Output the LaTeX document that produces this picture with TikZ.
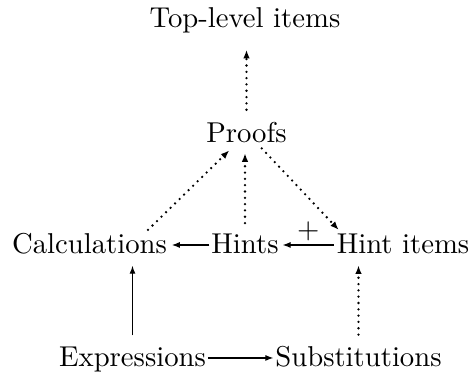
\documentclass[tikz,border=0pt]{standalone}
\usetikzlibrary{arrows.meta,calc}
\begin{document}
\begin{tikzpicture}[x=0.3484pt,y=-0.3484pt,
  lbl/.style={inner sep=0pt,outer sep=0pt,anchor=base},
  conn/.style={line width=0.4pt,-{Latex[length=2.8pt,width=2.1pt]}},
  dotconn/.style={line width=0.9pt,line cap=round,dash pattern=on 0pt off 2.2pt,-{Latex[length=3pt,width=2.3pt]}}]
\useasboundingbox (0,0) rectangle (470,377);
\node[lbl] (top) at (245,27) {Top-level items};
\node[lbl] (proofs) at (246.5,142) {Proofs};
\node[lbl] (calc) at (89.5,253) {Calculations};
\node[lbl] (hints) at (245,253) {Hints};
\node[lbl] (hitems) at (403,253) {Hint items};
\node[lbl] (expr) at (132.5,366) {Expressions};
\node[lbl] (subst) at (358.5,366) {Substitutions};
% solid arrows
\draw[conn] ($(hints.base west)+(-0.7pt,2.8pt)$) -- ($(calc.base east)+(1.7pt,2.8pt)$);
\draw[conn] ($(hitems.base west)+(-1pt,2.8pt)$) -- node[above,inner sep=1.3pt] (plus) {$+$} ($(hints.base east)+(1.4pt,2.8pt)$);
\draw[conn] ($(expr.base east)+(0.7pt,2.8pt)$) -- ($(subst.base west)+(-0.7pt,2.8pt)$);
\draw[conn,shorten <=3.9pt,shorten >=4.2pt] (expr.north) -- (expr.north |- calc.south);
% dotted arrows
\draw[dotconn,shorten <=3.9pt,shorten >=4.2pt] (subst.north) -- (subst.north |- hitems.south);
\draw[dotconn,shorten <=4.2pt,shorten >=6pt] (proofs.north) -- (proofs.north |- top.south);
\draw[dotconn,shorten <=3.6pt,shorten >=3.8pt] (hints.north) -- (hints.north |- proofs.south);
\draw[dotconn] ($(calc.north east)+(-6.6pt,1pt)$) -- ($(proofs.south west)+(8pt,-2.8pt)$);
\draw[dotconn] ($(proofs.south east)+(-8.7pt,-2.1pt)$) -- ($(hitems.north west)+(0.7pt,1.2pt)$);
\end{tikzpicture}
\end{document}
